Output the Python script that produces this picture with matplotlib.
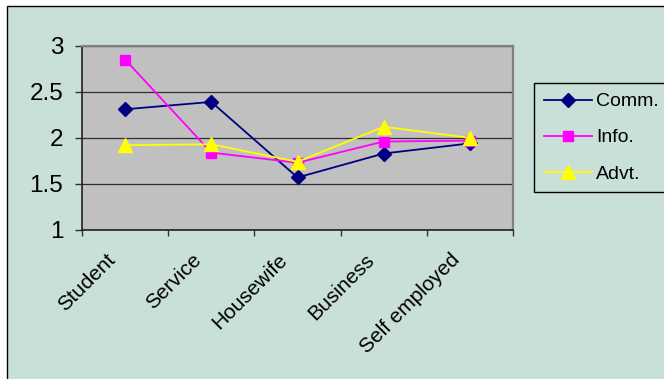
import matplotlib.pyplot as plt
import matplotlib.transforms as mtransforms
from matplotlib.patches import Rectangle

# ===================== DATA =====================
categories = ["Student", "Service", "Housewife", "Business", "Self employed"]
comm = [2.31, 2.39, 1.57, 1.83, 1.94]
info = [2.85, 1.84, 1.73, 1.96, 1.97]
advt = [1.92, 1.93, 1.74, 2.12, 2.00]

yticks = [1, 1.5, 2, 2.5, 3]

# ===================== FIGURE =====================
W, H = 664, 379
BG = "#C9E0D8"
fig = plt.figure(figsize=(W / 100, H / 100), dpi=100, facecolor="white")
plt.rcParams["font.family"] = ["Liberation Sans", "DejaVu Sans"]

# chart area frame (runs off the right/bottom edge)
fig.patches.append(Rectangle((6.5 / W, -0.05), 1.1, 1 - 6.5 / H + 0.05,
                             transform=fig.transFigure, facecolor=BG,
                             edgecolor="black", linewidth=1.0, zorder=-10))

ax = fig.add_axes([82 / W, (H - 230) / H, 431 / W, 184.3 / H])
ax.set_facecolor("#C0C0C0")

x = list(range(len(categories)))
ax.plot(x, comm, color="#000080", lw=1.3, marker="D", ms=7.5, label="Comm.", zorder=3)
ax.plot(x, info, color="#FF00FF", lw=1.3, marker="s", ms=7, label="Info.", zorder=4)
ax.plot(x, advt, color="#FFFF00", lw=1.3, marker="^", ms=10, label="Advt.", zorder=5)

ax.set_xlim(-0.5, len(categories) - 0.5)
ax.set_ylim(1, 3)

# horizontal gridlines
ax.set_yticks(yticks)
ax.set_yticklabels([f"{v:g}" for v in yticks], fontsize=17.5)
ax.yaxis.grid(True, color="#303030", lw=0.9)
ax.set_axisbelow(True)
ax.tick_params(axis="y", direction="out", length=5, width=1, pad=8.5, color="#303030")

# category boundary ticks, labels at category centres
ax.set_xticks([i - 0.5 for i in range(len(categories) + 1)])
ax.set_xticklabels([])
ax.set_xticks(x, minor=True)
ax.set_xticklabels(categories, minor=True, fontsize=15, rotation=45,
                   ha="right", va="top")
ax.tick_params(axis="x", which="major", direction="out", length=4, width=1, color="#303030")
ax.tick_params(axis="x", which="minor", length=0, pad=14.5)
shift = mtransforms.ScaledTranslation(-6 / 100, 0, fig.dpi_scale_trans)
for lbl in ax.get_xticklabels(minor=True):
    lbl.set_transform(lbl.get_transform() + shift)

for side in ["left", "bottom"]:
    ax.spines[side].set_color("#202020")
    ax.spines[side].set_linewidth(1.2)
for side in ["top", "right"]:
    ax.spines[side].set_color("#808080")
    ax.spines[side].set_linewidth(1.6)

# ===================== LEGEND =====================
leg = fig.legend(loc="upper left", bbox_to_anchor=(534 / W, 1 - 83 / H),
                 bbox_transform=fig.transFigure, borderaxespad=0,
                 fontsize=14, handlelength=2.5, handletextpad=0.2,
                 labelspacing=0.95, borderpad=0.5, fancybox=False,
                 framealpha=1, facecolor=BG, edgecolor="black")
leg.get_frame().set_linewidth(1.0)

fig.savefig("out.png", dpi=100, facecolor=fig.get_facecolor())
